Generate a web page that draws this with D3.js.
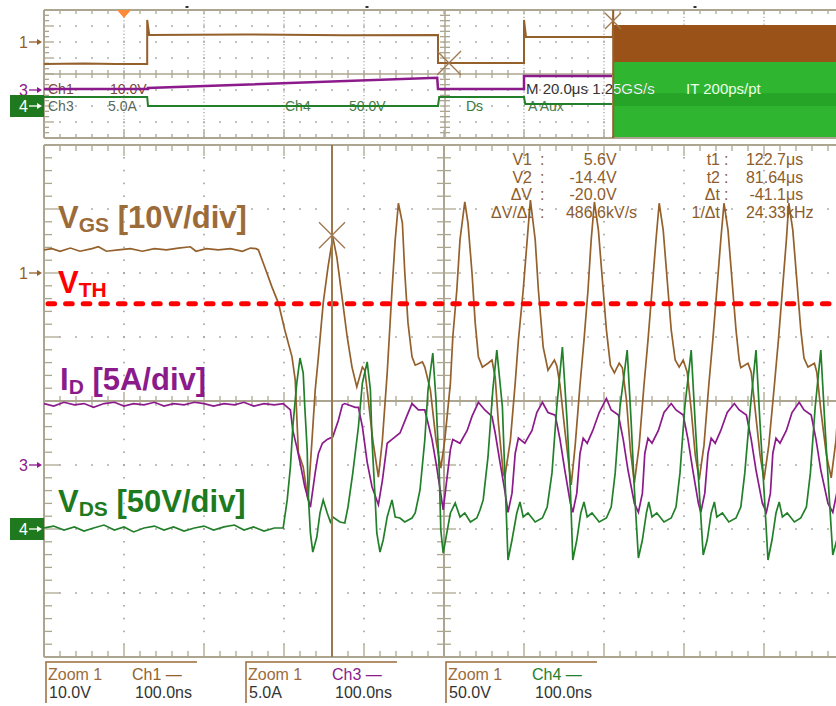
<!DOCTYPE html>
<html>
<head>
<meta charset="utf-8">
<script src="https://cdn.jsdelivr.net/npm/d3@7"></script>
<style>
  body { margin: 0; background: #fff; }
  svg { display: block; }
  text { font-family: "Liberation Sans", Arial, sans-serif; }
</style>
</head>
<body>
<div id="chart"></div>
<script>
// ---------- zoom window data (100 ns/div), time in ns ----------
const vgs = [
  [0,3.6],[10,3.8],[20,3.4],[33,3.9],[45,3.4],[60,3.8],[68,4.1],[78,3.4],[93,3.6],[108,3.8],[123,3.4],
  [138,3.8],[153,3.6],[168,3.9],[183,4.1],[190,3.4],[203,3.8],[218,3.6],[233,3.8],[248,3.4],[258,3.9],
  [265,3.8],[268,3.6],
  [276,0.9],[285,-2.2],[293,-4.7],[301,-8.9],[310,-13.1],[314,-16.7],[318,-28.1],[324,-30.3],[330,-35.5],
  [335,-26.1],[339,-18.3],[343,-13.1],[349,-4.7],[355,0.9],[361,5.6],
  [366,2.5],[373,-4.2],[379,-10.0],[385,-14.7],[391,-17.8],[398,-14.7],[401,-15.2],[405,-19.4],[411,-26.1],[418,-31.9],
  [423,-26.1],[429,-15.6],[435,-2.7],[439,5.2],[443,10.9],
  [448,7.8],[451,0],[455,-7.8],[460,-13.1],[464,-14.4],[473,-13.9],[476,-14.7],[483,-18.3],[490,-26.1],[496,-30.5],
  [501,-26.1],[508,-17.2],[511,-10.0],[516,-2.7],[520,5.2],[526,11.1],
  [530,7.8],[535,0],[539,-7.8],[543,-13.1],[548,-14.7],[555,-14.1],[560,-13.6],[564,-16.3],[568,-23.4],[574,-31.3],[576,-31.9],
  [583,-26.1],[589,-17.2],[593,-10.5],[599,-2.7],[604,5.2],[608,11.4],
  [614,5.2],[618,-2.7],[624,-11.6],[630,-15.2],[638,-13.6],[641,-14.5],[645,-17.5],[651,-24.5],[659,-33.1],
  [664,-26.9],[670,-17.5],[675,-10.5],[680,-2.7],[684,5.2],[688,11.1],
  [693,6.7],[698,-1.1],[703,-8.9],[708,-14.4],[713,-15.6],[719,-14.1],[723,-14.8],[728,-19.8],[733,-27.7],[738,-32.8],
  [744,-26.9],[750,-17.5],[755,-10.5],[760,-2.7],[765,5.2],[769,10.9],
  [774,6.7],[779,-1.1],[784,-8.9],[789,-13.6],[794,-14.7],[799,-13.6],[804,-15.5],[809,-21.4],[814,-28.4],[819,-32.3],
  [825,-26.9],[831,-17.5],[836,-10.5],[841,-2.7],[846,5.2],[850,10.9],
  [855,6.7],[860,-1.1],[865,-8.9],[869,-13.6],[871,-14.8],[880,-14.1],[884,-15.5],[889,-21.4],[895,-28.4],[900,-32.3],
  [906,-26.9],[913,-17.5],[918,-10.5],[923,-2.7],[928,5.2],[931,10.9],
  [936,6.7],[941,-1.1],[946,-8.9],[950,-13.3],[955,-14.7],[963,-14.1],[966,-15.5],[971,-21.4],[978,-28.4],[984,-32.0],
  [990,-26.1],[995,-16.7]
];

const id = [
  [0,4.8],[12,4.6],[25,4.9],[38,4.7],[50,4.8],[62,4.5],[75,4.8],[88,4.9],[100,4.6],[112,4.8],[125,4.7],
  [138,4.9],[150,4.6],[162,4.8],[175,4.7],[188,4.9],[200,4.8],[212,4.6],[225,4.8],[238,4.7],[250,4.9],
  [262,4.6],[275,4.8],[288,4.7],[299,4.8],
  [308,4.3],[311,2.7],[316,1.4],[320,0.2],[326,-1.7],[333,-3.3],
  [339,-0.6],[343,0.9],[348,1.7],[354,2.0],[361,2.2],[368,3.5],[373,4.7],[376,4.8],[389,4.5],[393,4.5],
  [398,3.0],[404,0.2],[410,-1.7],[418,-3.1],
  [423,-1.2],[429,1.7],[435,2.0],[445,2.5],[454,3.9],[460,4.8],[468,4.3],[476,4.3],[485,2.0],[491,-0.2],[499,-3.5],
  [508,1.2],[511,2.0],[520,1.7],[529,2.7],[535,3.8],[543,4.9],[551,4.3],[560,3.8],[564,2.5],[570,0.2],[576,-2.0],[580,-3.7],
  [585,-2.2],[589,0.9],[593,2.1],[601,1.7],[610,2.7],[616,4.1],[623,4.9],[630,4.1],[639,3.9],[645,2.0],[651,-0.4],[658,-3.0],[661,-3.7],
  [666,-2.2],[670,0.9],[674,2.1],[679,1.7],[686,2.7],[694,4.1],[703,5.2],[709,4.3],[718,3.9],[724,2.0],[730,-0.4],[738,-3.0],[743,-3.7],
  [748,-2.2],[751,0.9],[755,2.1],[760,1.7],[768,2.7],[775,4.1],[784,4.8],[790,4.3],[799,3.9],[805,2.0],[811,-0.4],[818,-3.0],[821,-3.7],
  [826,-2.2],[830,0.9],[834,2.1],[839,1.7],[846,2.7],[854,4.1],[863,4.8],[869,4.3],[878,3.9],[884,2.0],[890,-0.4],[898,-3.0],[903,-3.7],
  [908,-2.2],[911,0.9],[915,2.1],[920,1.7],[928,2.7],[935,4.1],[944,4.9],[950,4.3],[959,3.9],[965,2.0],[971,-0.4],[980,-3.0],[986,-3.7],
  [991,-2.2],[995,0.9]
];

const vds = [
  [0,0.8],[12,2.3],[25,-0.8],[38,1.6],[50,-1.6],[62,0.8],[75,3.1],[88,-0.8],[100,1.6],[112,-2.3],[125,0.8],
  [138,2.3],[150,-0.8],[162,1.6],[175,-1.6],[188,0.8],[200,2.3],[212,-0.8],[225,1.6],[238,3.1],[250,-0.8],
  [262,1.6],[275,-1.6],[288,0.8],[299,0.8],
  [304,22.7],[308,48.4],[311,79.7],[316,114.1],[320,133.6],[324,121.9],[326,95.3],[329,61.7],[330,30.5],[333,-3.1],[336,-18.0],
  [341,-6.3],[345,12.5],[349,22.7],[354,12.5],[358,5.5],[361,9.4],[370,5.5],[376,4.7],
  [380,17.2],[386,43.8],[393,79.7],[398,114.1],[404,130.5],[408,108.6],[410,69.5],[414,22.7],[416,-3.1],[420,-18.0],
  [424,-8.6],[429,9.4],[435,22.7],[439,9.4],[445,8.6],[451,5.5],[460,8.6],[464,12.5],
  [470,30.5],[476,69.5],[480,108.6],[486,137.5],[490,100.8],[494,46.1],[496,-0.8],[499,-18.8],
  [508,12.5],[514,20.3],[520,9.4],[526,12.5],[533,5.5],[541,8.6],[545,14.8],[549,22.7],
  [555,56.3],[561,108.6],[566,139.8],[573,95.3],[576,43.8],[580,-24.2],
  [585,-8.6],[591,12.5],[595,21.1],[599,9.4],[605,12.5],[614,5.5],[623,8.6],[629,17.2],[635,43.8],[641,95.3],[648,142.2],[654,82.8],[658,30.5],[661,-24.2],
  [666,-8.6],[671,12.5],[675,21.1],[679,9.4],[685,12.5],[694,5.5],[703,8.6],[709,17.2],[714,43.8],[720,95.3],[729,139.8],[734,82.8],[738,30.5],[743,-22.7],
  [748,-8.6],[753,12.5],[756,21.1],[760,9.4],[766,12.5],[775,5.5],[784,8.6],[790,17.2],[795,43.8],[801,95.3],[809,139.8],[814,82.8],[819,30.5],[824,-20.3],
  [829,-8.6],[834,12.5],[838,21.1],[841,9.4],[848,12.5],[856,5.5],[865,8.6],[871,17.2],[876,43.8],[883,95.3],[890,139.8],[895,82.8],[900,30.5],[905,-24.2],
  [910,-8.6],[915,12.5],[919,21.1],[923,9.4],[929,12.5],[938,5.5],[946,8.6],[953,17.2],[958,43.8],[964,95.3],[971,139.8],[976,82.8],[981,30.5],[986,-20.3],
  [991,-8.6],[996,12.5]
];

const vth = -4.8;            // V, threshold line
const cursorT = 360;         // ns
const cursorV = 5.6;         // V

// ---------- main acquisition window (20 us/div), time in us ----------
const vgsTop = [[0,-13.8],[10,-13.4],[18,-13.8],[25.8,-13.8],[25.8,13.8],[26.3,4.4],[50,4.7],[75,4.2],[98.5,4.4],
  [98.5,-13.1],[120,-13.1],[120,13.8],[120.5,3.1],[142.2,3.1],[142.3,20],[142.3,-60]];
const idTop = [[0,0.3],[26,0.3],[26,0.6],[98.3,3.8],[98.5,0.3],[120,0.3],[120,4.4],[142,4.4]];
const vdsTop = [[0,28.1],[25.8,28.1],[26,0],[98.5,0],[98.8,28.1],[120,28.1],[120.3,6.3],[142,6.3]];
const vgsBurst = [[142.5,10.6,-12.5],[200,10.6,-12.5]];   // [t, max, min]
const vdsBurst = [[142.5,137.5,-97],[200,137.5,-97]];

// ---------- readouts ----------
const measLeft = [["V1","5.6","V"],["V2","-14.4","V"],["\u0394V","-20.0","V"],["\u0394V/\u0394t","486.6","kV/s"]];
const measRight = [["t1","122.7","\u03bcs"],["t2","81.64","\u03bcs"],["\u0394t","-41.1","\u03bcs"],["1/\u0394t","24.33","kHz"]];
const zoomCh = ["Ch1","Ch3","Ch4"];
const zoomScale = ["10.0V","5.0A","50.0V"];
const zoomTime = ["100.0ns","100.0ns","100.0ns"];

var W = 836, H = 706;
var L = 44, R = 844;
var cBrown = "#94602c", cPurple = "#8b1a8b", cGreen = "#23802a";
var gridColor = "#aca690", dotColor = "#a0a0a0";

var svg = d3.select("#chart").append("svg").attr("width", W).attr("height", H);

// graticule scales (divisions)
const gx = d3.scaleLinear().domain([0, 10]).range([L, R]);
const gy = d3.scaleLinear().domain([0, 8]).range([145, 657]);
const gyTop = d3.scaleLinear().domain([0, 8]).range([10, 138]);

// time and channel scales
const x = d3.scaleLinear().domain([0, 1000]).range([L, R]);
const xTop = d3.scaleLinear().domain([0, 200]).range([L, R]);
const yGS = d3.scaleLinear().domain([0, 10]).range([gy(2), gy(1)]);
const yD = d3.scaleLinear().domain([0, 5]).range([gy(5), gy(4)]);
const yDS = d3.scaleLinear().domain([0, 50]).range([gy(6), gy(5)]);
const yGSTop = d3.scaleLinear().domain([0, 10]).range([gyTop(2), gyTop(1)]);
const yDTop = d3.scaleLinear().domain([0, 5]).range([gyTop(5), gyTop(4)]);
const yDSTop = d3.scaleLinear().domain([0, 50]).range([gyTop(6), gyTop(5)]);

var defs = svg.append("defs");
defs.append("clipPath").attr("id", "clipMain").append("rect")
  .attr("x", L).attr("y", gy(0)).attr("width", W - L).attr("height", gy(8) - gy(0));
defs.append("clipPath").attr("id", "clipTop").append("rect")
  .attr("x", L).attr("y", gyTop(0)).attr("width", W - L).attr("height", gyTop(8) - gyTop(0));
defs.append("clipPath").attr("id", "clipBurst").append("rect")
  .attr("x", xTop(142.5)).attr("y", gyTop(0)).attr("width", W).attr("height", gyTop(8) - gyTop(0));

function tick(g, x1, y1, x2, y2, w) {
  g.append("line").attr("x1", x1).attr("y1", y1).attr("x2", x2).attr("y2", y2)
    .attr("stroke", gridColor).attr("stroke-width", w || 1.3);
}
function dots(g, pts) {
  g.selectAll(null).data(pts).enter().append("rect")
    .attr("x", d => d[0] - 0.8).attr("y", d => d[1] - 0.8)
    .attr("width", 1.6).attr("height", 1.6).attr("fill", dotColor);
}

// ---------- main graticule ----------
var grid = svg.append("g");
var pts = [];
[1, 2, 3, 4, 6, 7, 8, 9].forEach(i => d3.range(1, 40).forEach(j => pts.push([gx(i), gy(j * 0.2)])));
[1, 2, 3, 5, 6, 7].forEach(j => d3.range(1, 50).forEach(i => pts.push([gx(i * 0.2), gy(j)])));
dots(grid, pts);

tick(grid, gx(0), gy(0), W, gy(0), 2);
tick(grid, gx(0), gy(8), W, gy(8), 2);
tick(grid, gx(0), gy(0), gx(0), gy(8), 2);
tick(grid, gx(0), gy(4), W, gy(4), 2);
tick(grid, gx(5), gy(0), gx(5), gy(8), 2);
d3.range(1, 40).forEach(function (j) {
  var yy = gy(j * 0.2), major = j % 5 === 0;
  tick(grid, gx(0), yy, gx(0) + (major ? 16 : 8), yy);
  tick(grid, gx(5) - (major ? 12 : 7), yy, gx(5) + (major ? 12 : 7), yy);
});
d3.range(1, 50).forEach(function (i) {
  var xx = gx(i * 0.2), major = i % 5 === 0;
  tick(grid, xx, gy(0), xx, gy(0) + (major ? 11 : 6));
  tick(grid, xx, gy(8), xx, gy(8) - (major ? 12 : 6));
  tick(grid, xx, gy(4) - (major ? 9 : 5), xx, gy(4) + (major ? 9 : 5));
});

// ---------- top graticule ----------
var gridTop = svg.append("g");
[1, 2, 3, 4, 6, 7, 8, 9].forEach(function (i) {
  gridTop.append("line").attr("x1", gx(i)).attr("x2", gx(i)).attr("y1", gyTop(0)).attr("y2", gyTop(8))
    .attr("stroke", dotColor).attr("stroke-width", 1.2).attr("stroke-dasharray", "1.2 2.2");
});
pts = [];
[1, 2, 3, 5, 6, 7].forEach(j => d3.range(1, 50).forEach(i => pts.push([gx(i * 0.2), gyTop(j)])));
dots(gridTop, pts);
tick(gridTop, gx(0), gyTop(0), W, gyTop(0), 2);
tick(gridTop, gx(0), gyTop(8), W, gyTop(8), 2);
tick(gridTop, gx(0), gyTop(0), gx(0), gyTop(8), 2);
tick(gridTop, gx(0), gyTop(4), W, gyTop(4), 1.5);
tick(gridTop, gx(5) + 1, gyTop(0), gx(5) + 1, gyTop(8), 1.5);
d3.range(1, 24).forEach(function (j) {
  var yy = gyTop(j / 3), major = j % 3 === 0;
  tick(gridTop, gx(0), yy, gx(0) + (major ? 10 : 5), yy);
  tick(gridTop, gx(5) + 1 - 5, yy, gx(5) + 1 + 5, yy);
});
d3.range(1, 50).forEach(function (i) {
  var xx = gx(i * 0.2), major = i % 5 === 0;
  tick(gridTop, xx, gyTop(0), xx, gyTop(0) + 4);
  tick(gridTop, xx, gyTop(8), xx, gyTop(8) - (major ? 8 : 4));
  tick(gridTop, xx, gyTop(4) - 4, xx, gyTop(4) + 4);
});

// small marks above the top window
[[187, 7], [367, 7], [695, 7]].forEach(function (p) {
  svg.append("rect").attr("x", p[0] - 1.5).attr("y", p[1] - 1).attr("width", 3).attr("height", 2).attr("fill", "#333");
});
// trigger marker
svg.append("path").attr("d", "M" + (gx(1) - 7) + ",10 L" + (gx(1) + 7) + ",10 L" + gx(1) + ",18 Z").attr("fill", "#ff8a3a");
svg.append("path").attr("d", "M612,137 L620,137 L616,130 Z").attr("fill", cBrown);

// ---------- top window settings text ----------
var topText = svg.append("g").style("font-size", "14px");
topText.append("text").attr("x", 48).attr("y", 94).attr("fill", "#7a4a40").text("Ch1");
topText.append("text").attr("x", 110).attr("y", 94).attr("fill", "#7a4a40").text("10.0V");
topText.append("text").attr("x", 48).attr("y", 111).attr("fill", "#5a6a5a").text("Ch3");
topText.append("text").attr("x", 108).attr("y", 111).attr("fill", "#5a6a5a").text("5.0A");
topText.append("text").attr("x", 285).attr("y", 111).attr("fill", "#4a7a4a").text("Ch4");
topText.append("text").attr("x", 349).attr("y", 111).attr("fill", "#4a7a4a").text("50.0V");
topText.append("text").attr("x", 466).attr("y", 111).attr("fill", "#3a7a3a").text("Ds");
topText.append("text").attr("x", 528).attr("y", 111).attr("fill", "#4a7a4a").text("A  Aux");
topText.append("text").attr("x", 612).attr("y", 111).attr("fill", "#333").text("1.2V");

// ---------- top window traces ----------
var gTop = svg.append("g").attr("clip-path", "url(#clipTop)");
var area = (ys) => d3.area().x(d => xTop(d[0])).y0(d => ys(d[2])).y1(d => ys(d[1]));
gTop.append("path").datum(vgsBurst).attr("d", area(yGSTop)).attr("fill", "#9a5218");
gTop.append("path").datum(vdsBurst).attr("d", area(yDSTop)).attr("fill", "#2fb52f");
gTop.append("rect").attr("x", xTop(142.5)).attr("y", yDSTop(40)).attr("width", W).attr("height", yDSTop(0) - yDSTop(40))
  .attr("fill", "#1f9a24").attr("opacity", 0.6);
var lineTop = (ys) => d3.line().x(d => xTop(d[0])).y(d => ys(d[1]));
gTop.append("path").datum(vgsTop).attr("d", lineTop(yGSTop)).attr("fill", "none").attr("stroke", cBrown).attr("stroke-width", 2);
gTop.append("path").datum(idTop).attr("d", lineTop(yDTop)).attr("fill", "none").attr("stroke", cPurple).attr("stroke-width", 2.5);
gTop.append("path").datum(vdsTop).attr("d", lineTop(yDSTop)).attr("fill", "none").attr("stroke", cGreen).attr("stroke-width", 2);

// X markers of the cursors in top window
function xMark(g, cx, cy, r, color) {
  g.append("path").attr("d", "M" + (cx - r) + "," + (cy - r) + "L" + (cx + r) + "," + (cy + r) +
    "M" + (cx - r) + "," + (cy + r) + "L" + (cx + r) + "," + (cy - r))
    .attr("stroke", color).attr("stroke-width", 1.4).attr("fill", "none");
}
xMark(svg, 449, 63, 12, "#a07850");
xMark(svg, 613, 21, 8, "#a07850");

var mtext = svg.append("g").style("font-size", "15px");
mtext.append("text").attr("x", 526).attr("y", 94).attr("fill", "#333").text("M 20.0\u03bcs 1.25GS/s");
mtext.append("text").attr("x", 526).attr("y", 94).attr("fill", "#eaffea").attr("clip-path", "url(#clipBurst)").text("M 20.0\u03bcs 1.25GS/s");
mtext.append("text").attr("x", 686).attr("y", 94).attr("fill", "#eaffea").text("IT 200ps/pt");

// ---------- zoom window traces ----------
var gMain = svg.append("g").attr("clip-path", "url(#clipMain)");
var line = (ys) => d3.line().x(d => x(d[0])).y(d => ys(d[1]));
gMain.append("path").datum(vgs).attr("d", line(yGS)).attr("fill", "none").attr("stroke", cBrown).attr("stroke-width", 1.7);
gMain.append("path").datum(id).attr("d", line(yD)).attr("fill", "none").attr("stroke", cPurple).attr("stroke-width", 1.7);
gMain.append("path").datum(vds).attr("d", line(yDS)).attr("fill", "none").attr("stroke", cGreen).attr("stroke-width", 1.7);

// threshold line
gMain.append("line").attr("x1", L + 4).attr("x2", W).attr("y1", yGS(vth)).attr("y2", yGS(vth))
  .attr("stroke", "#ff0000").attr("stroke-width", 5).attr("stroke-linecap", "round")
  .attr("stroke-dasharray", "6.6 11");

// cursor
gMain.append("line").attr("x1", x(cursorT)).attr("x2", x(cursorT)).attr("y1", gy(0)).attr("y2", gy(8))
  .attr("stroke", "#9c7a50").attr("stroke-width", 2);
xMark(svg, x(cursorT), yGS(cursorV) - 2, 13, "#a07850");

// ---------- channel markers ----------
function marker(yy, label, color, boxed) {
  var g = svg.append("g");
  if (boxed) {
    g.append("rect").attr("x", 10).attr("y", yy - 11).attr("width", 34).attr("height", 22).attr("fill", "#1f7a1f");
  }
  g.append("text").attr("x", 19).attr("y", yy + 6).style("font-size", "16px")
    .attr("fill", boxed ? "#fff" : color).text(label);
  g.append("line").attr("x1", 29).attr("x2", 39).attr("y1", yy).attr("y2", yy)
    .attr("stroke", boxed ? "#fff" : color).attr("stroke-width", 1.3);
  g.append("path").attr("d", "M37," + (yy - 3) + " L42," + yy + " L37," + (yy + 3) + " Z")
    .attr("fill", boxed ? "#fff" : color);
}
marker(yGSTop(0), "1", cBrown, false);
marker(yDTop(0), "3", cPurple, false);
marker(yDSTop(0), "4", cGreen, true);
marker(yGS(0), "1", cBrown, false);
marker(yD(0), "3", cPurple, false);
marker(yDS(0), "4", cGreen, true);

// ---------- big labels ----------
function bigLabel(x0, y0, main, sub, rest, color) {
  var t = svg.append("text").attr("x", x0).attr("y", y0).attr("fill", color)
    .style("font-weight", "bold").style("font-size", "31px");
  t.append("tspan").text(main);
  t.append("tspan").attr("dy", 4).style("font-size", "21px").text(sub);
  if (rest) t.append("tspan").attr("dy", -4).text(rest);
}
bigLabel(58, 228, "V", "GS", " [10V/div]", "#9c6b3a");
bigLabel(58, 293, "V", "TH", "", "#ff0000");
bigLabel(60, 390, "I", "D", " [5A/div]", "#8b1a8b");
bigLabel(58, 512, "V", "DS", " [50V/div]", "#1e7a1e");

// ---------- cursor readouts ----------
var meas = svg.append("g").style("font-size", "16px").attr("fill", "#8d5d2d");
measLeft.forEach(function (m, i) {
  var yy = 165 + i * 17.5;
  meas.append("text").attr("x", 532).attr("y", yy).attr("text-anchor", "end").text(m[0]);
  meas.append("text").attr("x", 540).attr("y", yy).text(":");
  meas.append("text").attr("x", 606).attr("y", yy).attr("text-anchor", "end").text(m[1]);
  meas.append("text").attr("x", 606).attr("y", yy).text(m[2]);
});
measRight.forEach(function (m, i) {
  var yy = 165 + i * 17.5;
  meas.append("text").attr("x", 720).attr("y", yy).attr("text-anchor", "end").text(m[0]);
  meas.append("text").attr("x", 724).attr("y", yy).text(":");
  meas.append("text").attr("x", 786).attr("y", yy).attr("text-anchor", "end").text(m[1]);
  meas.append("text").attr("x", 786).attr("y", yy).text(m[2]);
});

// ---------- zoom settings boxes ----------
var chColors = [cBrown, cPurple, cGreen];
zoomCh.forEach(function (c, i) {
  var x0 = 46 + i * 200;
  var g = svg.append("g").style("font-size", "16px");
  g.append("path").attr("d", "M" + x0 + ",703 L" + x0 + ",662 L" + (x0 + 151) + ",662")
    .attr("fill", "none").attr("stroke", "#9c6b3c").attr("stroke-width", 1.5);
  g.append("text").attr("x", x0 + 2).attr("y", 680).attr("fill", "#9c6b3c").text("Zoom 1");
  g.append("text").attr("x", x0 + 86).attr("y", 680).attr("fill", chColors[i]).text(c + " \u2014");
  g.append("text").attr("x", x0 + 3).attr("y", 698).attr("fill", "#333").text(zoomScale[i]);
  g.append("text").attr("x", x0 + 89).attr("y", 698).attr("fill", "#333").text(zoomTime[i]);
});
</script>
</body>
</html>
